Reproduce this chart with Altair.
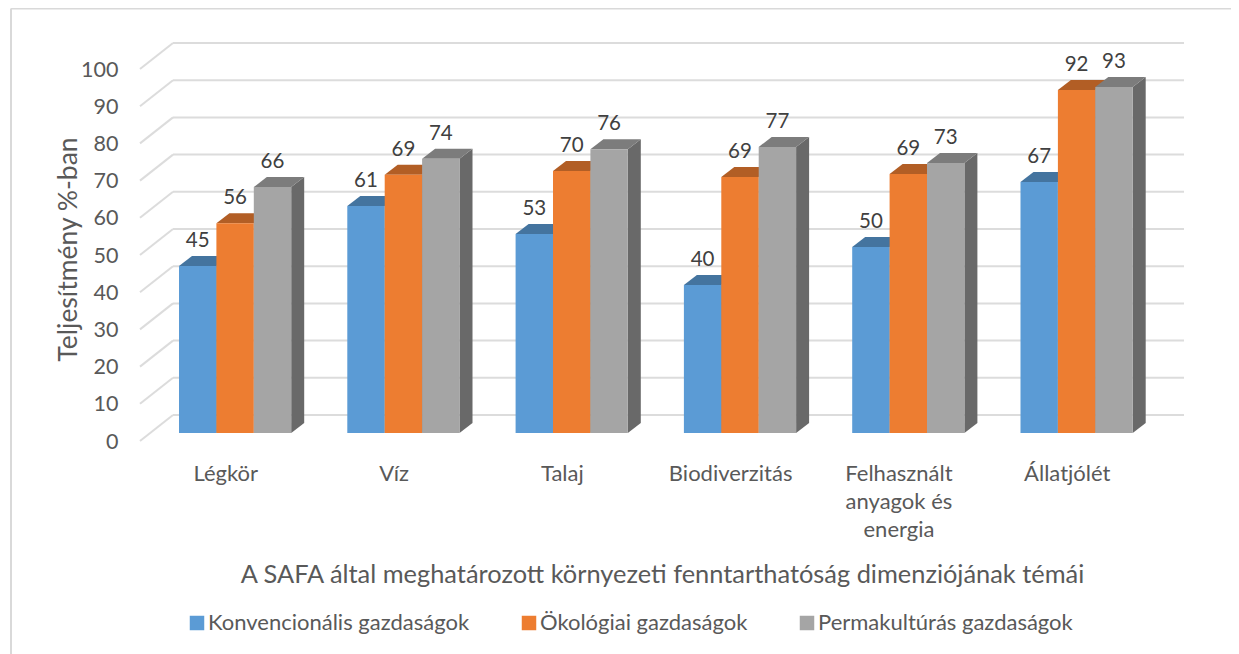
import altair as alt
import pandas as pd

# ---- values
categories = ["Légkör", "Víz", "Talaj", "Biodiverzitás", "Felhasznált\nanyagok és\nenergia", "Állatjólét"]
series = ["Konvencionális gazdaságok", "Ökológiai gazdaságok", "Permakultúrás gazdaságok"]
konv = [44.9, 61.0, 53.5, 39.8, 50.0, 67.5]
oko = [56.4, 69.4, 70.4, 68.8, 69.6, 92.2]
perma = [66.1, 73.7, 76.3, 76.9, 72.6, 93.0]
konv_labels = [45, 61, 53, 40, 50, 67]
oko_labels = [56, 69, 70, 69, 69, 92]
perma_labels = [66, 74, 76, 77, 73, 93]
ticks = list(range(0, 101, 10))

front = ["#5B9BD5", "#ED7D31", "#A5A5A5"]
top = ["#44749F", "#B25E25", "#7C7C7C"]
side = ["#3A6388", "#97501F", "#696969"]
TXT = "#595959"
FONT = "Lato"

# ---- layout: x unit = one bar width, y unit = one percent
W, H = 1223, 646
PX = 37.4             # px per bar width
PY = 3.72             # px per percent
X0_PAGE, Y0_PAGE = 179, 433
GROUP_STEP = 4.5      # bar widths between categories
DX = 13 / PX          # depth
DY = 10 / PY
BACK = 18 / PY        # back wall above bar floor
FRONT = -8 / PY       # left end of the gridlines
GRID_L = (140 - X0_PAGE) / PX
GRID_M = (173 - X0_PAGE) / PX
GRID_R = (1184 - X0_PAGE) / PX

x_scale = alt.Scale(domain=[(8 - X0_PAGE) / PX, (8 + W - X0_PAGE) / PX], nice=False, zero=False)
y_scale = alt.Scale(domain=[(Y0_PAGE - 8 - H) / PY, (Y0_PAGE - 8) / PY], range=[H, 0], nice=False, zero=False)

vals = [konv, oko, perma]
labs = [konv_labels, oko_labels, perma_labels]

rows, side_rows, top_rows = [], [], []
for s, name in enumerate(series):
    for c, cat in enumerate(categories):
        v = vals[s][c]
        l = c * GROUP_STEP + s
        r = l + 1
        rows.append(dict(series=name, l=l, r=r, m=l + 0.5, v=v, label=labs[s][c], base=0))
        key = f"k{s}_{c}"
        side_rows += [dict(s=s, k=key, x=r, lo=0, hi=v), dict(s=s, k=key, x=r + DX, lo=DY, hi=v + DY)]
        top_rows += [dict(s=s, k=key, x=l, lo=v, hi=v), dict(s=s, k=key, x=l + DX, lo=v, hi=v + DY),
                     dict(s=s, k=key, x=r, lo=v, hi=v + DY), dict(s=s, k=key, x=r + DX, lo=v + DY, hi=v + DY)]
bars = pd.DataFrame(rows)
side_df = pd.DataFrame(side_rows)
top_df = pd.DataFrame(top_rows)

x_axis = alt.Axis(
    title="A SAFA által meghatározott környezeti fenntarthatóság dimenziójának témái",
    labels=False, ticks=False, domain=False, grid=False,
    titleFont=FONT, titleFontSize=25.4, titleFontWeight="normal", titleColor=TXT,
    titleX=662 - 8, titleY=574 - 8 - H, titleAlign="center", titleBaseline="middle")


def X(f, **kw):
    return alt.X(f, type="quantitative", scale=x_scale, axis=x_axis, **kw)


def Y(f, **kw):
    return alt.Y(f, type="quantitative", scale=y_scale, axis=None, **kw)


layers = []

# frame
frame = pd.DataFrame({"x": [(11 - X0_PAGE) / PX], "x2": [(8 + W - X0_PAGE) / PX],
                      "yt": [(Y0_PAGE - 8.5) / PY], "yb": [(Y0_PAGE - 8 - H) / PY]})
layers.append(alt.Chart(frame).mark_rule(color="#D9D9D9", strokeWidth=2).encode(
    x=X("x:Q"), y=Y("yt:Q"), y2=alt.Y2("yb:Q")))
layers.append(alt.Chart(frame).mark_rule(color="#D9D9D9", strokeWidth=2).encode(
    x=X("x:Q"), x2=alt.X2("x2:Q"), y=Y("yt:Q")))

# gridlines: back wall and left floor-side diagonals
grid = pd.DataFrame({"t": ticks, "yb": [t + BACK for t in ticks], "xa": GRID_M, "xb": GRID_R})
layers.append(alt.Chart(grid).mark_rule(color="#DCDCDC", strokeWidth=2).encode(
    x=X("xa:Q"), x2=alt.X2("xb:Q"), y=Y("yb:Q")))
diag_rows = []
for t in ticks:
    diag_rows += [dict(t=t, x=GRID_L, y=t + FRONT), dict(t=t, x=GRID_M, y=t + BACK)]
layers.append(alt.Chart(pd.DataFrame(diag_rows)).mark_line(color="#DCDCDC", strokeWidth=2).encode(
    x=X("x:Q"), y=Y("y:Q"), detail="t:N"))

# sides and tops, series by series
for s in range(3):
    layers.append(alt.Chart(side_df[side_df.s == s]).mark_area(color=side[s], orient="vertical").encode(
        x=X("x:Q"), y=Y("lo:Q", stack=None), y2=alt.Y2("hi:Q"), detail="k:N"))
    layers.append(alt.Chart(top_df[top_df.s == s]).mark_area(color=top[s], orient="vertical").encode(
        x=X("x:Q"), y=Y("lo:Q", stack=None), y2=alt.Y2("hi:Q"), detail="k:N"))

# front faces, with the legend
layers.append(alt.Chart(bars).mark_rect().encode(
    x=X("l:Q"),
    x2=alt.X2("r:Q"),
    y=Y("base:Q"), y2=alt.Y2("v:Q"),
    color=alt.Color("series:N", sort=series, scale=alt.Scale(domain=series, range=front),
                    legend=alt.Legend(title=None, orient="none", direction="horizontal",
                                      legendX=186 - 8, legendY=612 - 8, symbolType="square",
                                      symbolSize=210, symbolStrokeWidth=0, symbolOpacity=1,
                                      labelFont=FONT, labelFontSize=22, labelColor=TXT,
                                      labelOffset=0, columnPadding=48, labelLimit=400)),
))

# data labels
layers.append(alt.Chart(bars).mark_text(font=FONT, fontSize=20.5, color="#404040", dy=-25, baseline="middle").encode(
    x=X("m:Q"), y=Y("v:Q"), text="label:Q"))

# category labels
cat_df = pd.DataFrame({"cat": categories, "x": [c * GROUP_STEP + 1.25 for c in range(6)], "y": (Y0_PAGE - 474) / PY})
cat_df["lines"] = cat_df.cat.str.split("\n")
layers.append(alt.Chart(cat_df).mark_text(font=FONT, fontSize=22, color=TXT, lineHeight=28, baseline="middle").encode(
    x=X("x:Q"), y=Y("y:Q"), text="lines:N"))

# value axis: front plane scale, labels at the left end of the gridlines
axis_df = pd.DataFrame({"t": ticks})
axis_scale = alt.Scale(domain=[0, 100], range=[442 - 8, 70 - 8], nice=False, zero=False)
layers.append(alt.Chart(axis_df).mark_point(opacity=0, size=1).encode(
    x=X("t:Q"),
    y=alt.Y("t:Q", scale=axis_scale, axis=alt.Axis(
        orient="left", values=ticks, offset=-(118 - 8), domain=False, ticks=False, grid=False,
        labelFont=FONT, labelFontSize=21.5, labelColor=TXT, labelPadding=0,
        title="Teljesítmény %-ban", titleFont=FONT, titleFontSize=26.5, titleFontWeight="normal",
        titleColor=TXT, titleAngle=-90, titleX=68 - 118, titleY=249 - 8,
        titleAlign="center", titleBaseline="middle"))))

chart = alt.layer(*layers).resolve_scale(y="independent").properties(
    width=W, height=H, padding=0, autosize=alt.AutoSizeParams(type="none"),
    background="white",
).configure_view(stroke=None)

chart.save("out.html", embed_options={"renderer": "svg", "actions": False})
